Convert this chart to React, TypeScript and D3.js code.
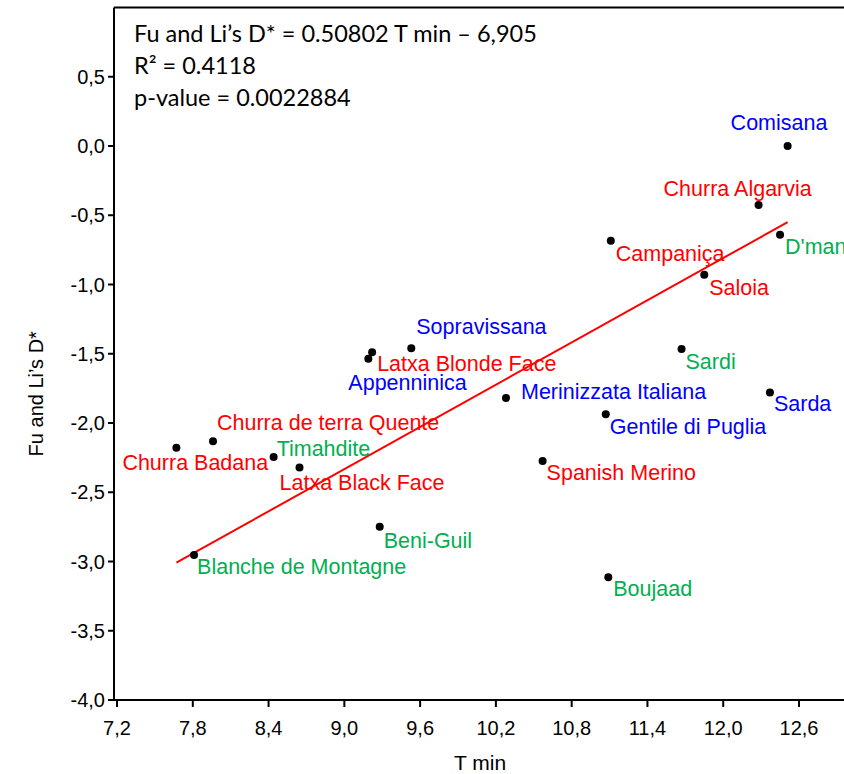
import React from "react";
import * as d3 from "d3";

// Breeds, minimum temperature (T min) and Fu and Li's D*
const breeds = [
  "Comisana", "Churra Algarvia", "D'man", "Campaniça", "Saloia",
  "Sopravissana", "Latxa Blonde Face", "Appenninica", "Merinizzata Italiana",
  "Churra de terra Quente", "Churra Badana", "Timahdite", "Latxa Black Face",
  "Beni-Guil", "Blanche de Montagne", "Sardi", "Sarda", "Gentile di Puglia",
  "Spanish Merino", "Boujaad",
];
const tMin = [
  12.51, 12.28, 12.45, 11.11, 11.85,
  9.53, 9.22, 9.19, 10.28,
  7.96, 7.67, 8.44, 8.645,
  9.28, 7.81, 11.67, 12.37, 11.07,
  10.57, 11.09,
];
const dStar = [
  0.0, -0.426, -0.64, -0.684, -0.929,
  -1.461, -1.49, -1.536, -1.819,
  -2.132, -2.178, -2.245, -2.322,
  -2.749, -2.953, -1.466, -1.779, -1.937,
  -2.274, -3.114,
];
// Country group of each breed: it: Italy, ib: Iberia, af: North Africa
const group = [
  "it", "ib", "af", "ib", "ib",
  "it", "ib", "it", "it",
  "ib", "ib", "af", "ib",
  "af", "af", "af", "it", "it",
  "ib", "af",
];

const slope = 0.50802;
const intercept = -6.905;
const statLines = [
  "Fu and Li\u2019s D* = 0.50802 T min \u2013 6,905",
  "R\u00b2 = 0.4118",
  "p-value = 0.0022884",
];

const xTicks = [7.2, 7.8, 8.4, 9.0, 9.6, 10.2, 10.8, 11.4, 12.0, 12.6];
const yTicks = [0.5, 0.0, -0.5, -1.0, -1.5, -2.0, -2.5, -3.0, -3.5, -4.0];

const groupColor: Record<string, string> = {
  it: "#0000ff",
  ib: "#ff0000",
  af: "#00b050",
};

// label offsets (px) from each point, keyed by breed
const labelOffset: Record<string, [number, number]> = {
  "Comisana": [-57, -16],
  "Churra Algarvia": [-95, -9],
  "D'man": [5, 19],
  "Campaniça": [5, 20],
  "Saloia": [5, 20],
  "Sopravissana": [5, -14],
  "Latxa Blonde Face": [5, 19],
  "Appenninica": [-20, 31],
  "Merinizzata Italiana": [15, 1],
  "Churra de terra Quente": [4, -11],
  "Churra Badana": [-54, 22],
  "Timahdite": [3, -1],
  "Latxa Black Face": [-20, 22],
  "Beni-Guil": [4, 21],
  "Blanche de Montagne": [3, 19],
  "Sardi": [4, 20],
  "Sarda": [4, 19],
  "Gentile di Puglia": [4, 20],
  "Spanish Merino": [4, 19],
  "Boujaad": [5, 19],
};

const W = 844;
const H = 774;
const left = 114;
const right = 849.5;
const top = 7.5;
const bottom = 700;

const fmt = (v: number) => d3.format(".1f")(v).replace(".", ",").replace("\u2212", "-");

export default function App() {
  const x = d3.scaleLinear().domain([7.176, 13.0]).range([left, right]);
  const y = d3.scaleLinear().domain([-4, 1]).range([bottom, top]);

  const tLo = d3.min(tMin) as number;
  const tHi = d3.max(tMin) as number;
  const fit = d3
    .line<number>()
    .x((t) => x(t))
    .y((t) => y(slope * t + intercept));

  const sans = "'Liberation Sans', Arial, sans-serif";

  return (
    <svg
      width={W}
      height={H}
      style={{ position: "absolute", left: 0, top: 0, background: "#fff" }}
    >
      <rect x={0} y={0} width={W} height={H} fill="#fff" />
      {/* frame */}
      <line x1={left} x2={W + 10} y1={top} y2={top} stroke="#000" strokeWidth={2} />
      <line x1={left} x2={left} y1={top} y2={bottom + 1} stroke="#000" strokeWidth={2} />
      <line x1={left - 1} x2={W + 10} y1={bottom} y2={bottom} stroke="#000" strokeWidth={2} />

      {/* y axis */}
      {yTicks.map((v) => (
        <g key={"y" + v}>
          <line x1={left - 6} x2={left} y1={y(v)} y2={y(v)} stroke="#000" strokeWidth={2} />
          <text
            x={left - 9}
            y={y(v)}
            dy="0.35em"
            textAnchor="end"
            fontFamily={sans}
            fontSize={20}
            fill="#000"
          >
            {fmt(v)}
          </text>
        </g>
      ))}

      {/* x axis */}
      {xTicks.map((v) => (
        <g key={"x" + v}>
          <line x1={x(v)} x2={x(v)} y1={bottom} y2={bottom + 7} stroke="#000" strokeWidth={2} />
          <text
            x={x(v)}
            y={bottom + 35}
            textAnchor="middle"
            fontFamily={sans}
            fontSize={20}
            fill="#000"
          >
            {fmt(v)}
          </text>
        </g>
      ))}

      <text x={480} y={770} textAnchor="middle" fontFamily={sans} fontSize={21} fill="#000">
        T min
      </text>
      <text
        transform={`translate(43, ${(top + bottom) / 2 + 40}) rotate(-90)`}
        textAnchor="middle"
        fontFamily={sans}
        fontSize={20}
        fill="#000"
      >
        Fu and Li’s D*
      </text>

      {/* regression line */}
      <path d={fit([tLo, tHi]) || ""} fill="none" stroke="#ff0000" strokeWidth={2} />

      {/* points */}
      {breeds.map((b, i) => (
        <circle key={"p" + b} cx={x(tMin[i])} cy={y(dStar[i])} r={4} fill="#000" />
      ))}

      {/* labels */}
      {breeds.map((b, i) => {
        const [dx, dy] = labelOffset[b];
        return (
          <text
            key={"l" + b}
            x={x(tMin[i]) + dx}
            y={y(dStar[i]) + dy}
            fontFamily={sans}
            fontSize={21.5}
            fill={groupColor[group[i]]}
          >
            {b}
          </text>
        );
      })}

      {/* fit statistics */}
      {statLines.map((s, i) => (
        <text
          key={"s" + i}
          x={134}
          y={42 + i * 32}
          fontFamily="Lato, 'Open Sans', sans-serif"
          fontSize={23.5}
          fill="#000"
        >
          {s}
        </text>
      ))}
    </svg>
  );
}
